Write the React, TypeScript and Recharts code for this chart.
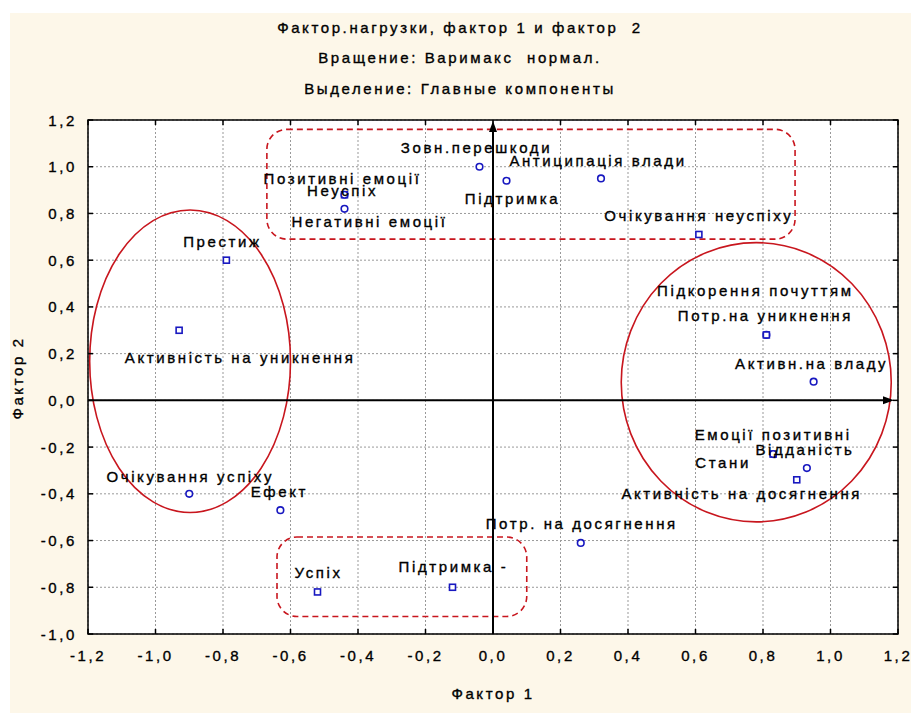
import { CartesianGrid, ReferenceArea, ReferenceLine, Scatter, ScatterChart, XAxis, YAxis } from "recharts"

// factor loadings (Varimax normalized, principal components)
const variables = [
  "Зовн.перешкоди",
  "Антиципація влади",
  "Підтримка",
  "Позитивні емоції",
  "Неуспіх",
  "Негативні емоції",
  "Престиж",
  "Очікування неуспіху",
  "Активність на уникнення",
  "Підкорення почуттям",
  "Потр.на уникнення",
  "Активн.на владу",
  "Емоції позитивні",
  "Стани",
  "Відданість",
  "Активність на досягнення",
  "Потр. на досягнення",
  "Очікування успіху",
  "Ефект",
  "Успіх",
  "Підтримка -",
]
const factor1 = [-0.04, 0.32, 0.04, -0.44, -0.44, -0.44, -0.79, 0.61, -0.93, 0.81, 0.81, 0.95, 0.83, 0.83, 0.93, 0.9, 0.26, -0.9, -0.63, -0.52, -0.12]
const factor2 = [1.0, 0.95, 0.94, 0.88, 0.88, 0.82, 0.6, 0.71, 0.3, 0.28, 0.28, 0.08, -0.23, -0.23, -0.29, -0.34, -0.61, -0.4, -0.47, -0.82, -0.8]

const xTicks = [-1.2, -1.0, -0.8, -0.6, -0.4, -0.2, 0, 0.2, 0.4, 0.6, 0.8, 1.0, 1.2]
const yTicks = [-1.0, -0.8, -0.6, -0.4, -0.2, 0, 0.2, 0.4, 0.6, 0.8, 1.0, 1.2]

const titleLines = [
  "Фактор.нагрузки, фактор 1 и фактор  2",
  "Вращение: Варимакс  нормал.",
  "Выделение: Главные компоненты",
]

// groups drawn around the clusters, in factor units
const clusterEllipses = [
  { x1: -1.195, x2: -0.6, y1: -0.48, y2: 0.815 },
  { x1: 0.38, x2: 1.18, y1: -0.52, y2: 0.675 },
]
const clusterBoxes = [
  { x1: -0.67, x2: 0.895, y1: 0.69, y2: 1.16 },
  { x1: -0.64, x2: 0.1, y1: -0.925, y2: -0.585 },
]

const data = variables.map((name, i) => ({ name, x: factor1[i], y: factor2[i] }))

// where each label sits relative to its point (px)
const labelOffset: Record<string, [number, number]> = {
  "Зовн.перешкоди": [-3, -19],
  "Антиципація влади": [-3, -18],
  "Підтримка": [6, 18],
  "Позитивні емоції": [-2, -16],
  "Неуспіх": [-2, -4],
  "Негативні емоції": [25, 13],
  "Престиж": [-4, -19],
  "Очікування неуспіху": [0, -19],
  "Активність на уникнення": [61, 27],
  "Підкорення почуттям": [-11, -44],
  "Потр.на уникнення": [-1, -19],
  "Активн.на владу": [-2, -18],
  "Емоції позитивні": [0, -20],
  "Стани": [-50, 8],
  "Відданість": [-2, -19],
  "Активність на досягнення": [-55, 14],
  "Потр. на досягнення": [1, -19],
  "Очікування успіху": [1, -17],
  "Ефект": [-1, -19],
  "Успіх": [1, -19],
  "Підтримка -": [1, -21],
}
const squareMarkers = new Set([
  "Позитивні емоції", "Престиж", "Очікування неуспіху", "Активність на уникнення",
  "Потр.на уникнення", "Емоції позитивні", "Активність на досягнення", "Успіх", "Підтримка -",
])

const W = 911
const H = 713
const PLOT_L = 88
const PLOT_R = 898
const PLOT_T = 120
const PLOT_B = 634
const FONT = "'Liberation Sans', Arial, sans-serif"
const textStyle = {
  fontFamily: FONT,
  fontSize: 15,
  letterSpacing: 2.6,
  fill: "#000",
  stroke: "#000",
  strokeWidth: 0.35,
  whiteSpace: "pre" as const,
}
const RED = "#c8161e"
const BLUE = "#1818c0"

const fmt = (v: number) => v.toFixed(1).replace(".", ",")

function YTick(props: any) {
  const { y, payload } = props
  return (
    <g>
      <text x={77} y={y} textAnchor="end" dominantBaseline="central" style={textStyle}>
        {fmt(payload.value)}
      </text>
      <line x1={PLOT_L} x2={PLOT_L + 5} y1={y} y2={y} stroke="#000" strokeWidth={1.5} />
      <line x1={PLOT_R - 5} x2={PLOT_R} y1={y} y2={y} stroke="#000" strokeWidth={1.5} />
    </g>
  )
}

function XTick(props: any) {
  const { x, payload } = props
  return (
    <g>
      <text x={x} y={655} textAnchor="middle" dominantBaseline="central" style={textStyle}>
        {fmt(payload.value)}
      </text>
      <line x1={x} x2={x} y1={PLOT_B} y2={PLOT_B - 5} stroke="#000" strokeWidth={1.5} />
      <line x1={x} x2={x} y1={PLOT_T} y2={PLOT_T + 5} stroke="#000" strokeWidth={1.5} />
    </g>
  )
}

function PointMark(props: any) {
  const { cx, cy, payload } = props
  const [dx, dy] = labelOffset[payload.name] ?? [0, -18]
  return (
    <g>
      {squareMarkers.has(payload.name) ? (
        <rect x={cx - 3} y={cy - 3} width={6} height={6} fill="#fff" stroke={BLUE} strokeWidth={1.6} />
      ) : (
        <circle cx={cx} cy={cy} r={3.3} fill="#fff" stroke={BLUE} strokeWidth={1.6} />
      )}
      <text x={cx + dx} y={cy + dy} textAnchor="middle" dominantBaseline="central" style={textStyle}>
        {payload.name}
      </text>
    </g>
  )
}

function EllipseShape(props: any) {
  const { x, y, width, height } = props
  return (
    <ellipse cx={x + width / 2} cy={y + height / 2} rx={width / 2} ry={height / 2} fill="none" stroke={RED} strokeWidth={1.6} />
  )
}

function BoxShape(props: any) {
  const { x, y, width, height } = props
  return (
    <rect x={x} y={y} width={width} height={height} rx={20} ry={20} fill="none" stroke={RED} strokeWidth={1.6} strokeDasharray="6 4" />
  )
}

function VArrowLine(props: any) {
  const { x1, y1, x2, y2 } = props
  const top = Math.min(y1, y2)
  return (
    <g>
      <line x1={x1} x2={x2} y1={Math.max(y1, y2)} y2={top + 4} stroke="#000" strokeWidth={2} />
      <polygon points={`${x1},${top + 1} ${x1 - 4},${top + 12} ${x1 + 4},${top + 12}`} fill="#000" />
    </g>
  )
}

function HArrowLine(props: any) {
  const { x1, y1, x2 } = props
  const right = Math.max(x1, x2) - 4
  return (
    <g>
      <line x1={Math.min(x1, x2)} x2={right - 3} y1={y1} y2={y1} stroke="#000" strokeWidth={2} />
      <polygon points={`${right},${y1} ${right - 11},${y1 - 4} ${right - 11},${y1 + 4}`} fill="#000" />
    </g>
  )
}

export default function App() {
  return (
    <div style={{ position: "absolute", left: 0, top: 0, width: W, height: H, background: "#fff", overflow: "hidden" }}>
      <div style={{ position: "absolute", left: 10, top: 13, width: W - 10, height: H - 13, background: "#fdf7e9" }} />
      <svg width={W} height={110} style={{ position: "absolute", left: 0, top: 0 }}>
        {titleLines.map((t, i) => (
          <text key={t} x={460} y={27 + i * 30.5} textAnchor="middle" dominantBaseline="central" style={textStyle}>
            {t}
          </text>
        ))}
      </svg>
      <div style={{ position: "absolute", left: 0, top: 0 }}>
        <ScatterChart width={W} height={H} margin={{ top: PLOT_T, right: W - PLOT_R, left: 0, bottom: 0 }}>
          <CartesianGrid
            fill="#fff"
            stroke="#999"
            strokeDasharray="2 2"
            horizontalValues={yTicks}
            verticalValues={xTicks}
          />
          <XAxis
            type="number"
            dataKey="x"
            domain={[-1.2, 1.2]}
            ticks={xTicks}
            height={H - PLOT_B}
            axisLine={false}
            tickLine={false}
            tick={<XTick />}
            interval={0}
            label={{ value: "Фактор 1", position: "insideBottom", offset: 14, style: textStyle }}
          />
          <YAxis
            type="number"
            dataKey="y"
            domain={[-1.0, 1.2]}
            ticks={yTicks}
            width={PLOT_L}
            axisLine={false}
            tickLine={false}
            tick={<YTick />}
            interval={0}
            label={{
              content: () => (
                <text x={17} y={378} transform="rotate(-90 17 378)" textAnchor="middle" dominantBaseline="central" style={textStyle}>
                  Фактор 2
                </text>
              ),
            }}
          />
          {clusterEllipses.map((e, i) => (
            <ReferenceArea key={`e${i}`} x1={e.x1} x2={e.x2} y1={e.y1} y2={e.y2} ifOverflow="visible" shape={<EllipseShape />} />
          ))}
          {clusterBoxes.map((b, i) => (
            <ReferenceArea key={`b${i}`} x1={b.x1} x2={b.x2} y1={b.y1} y2={b.y2} ifOverflow="visible" shape={<BoxShape />} />
          ))}
          <ReferenceLine x={0} stroke="#000" shape={<VArrowLine />} />
          <ReferenceLine y={0} stroke="#000" shape={<HArrowLine />} />
          <ReferenceArea x1={-1.2} x2={1.2} y1={-1.0} y2={1.2} fill="none" stroke="#000" strokeWidth={1.5} fillOpacity={0} />
          <Scatter data={data} isAnimationActive={false} shape={<PointMark />} />
        </ScatterChart>
      </div>
    </div>
  )
}
